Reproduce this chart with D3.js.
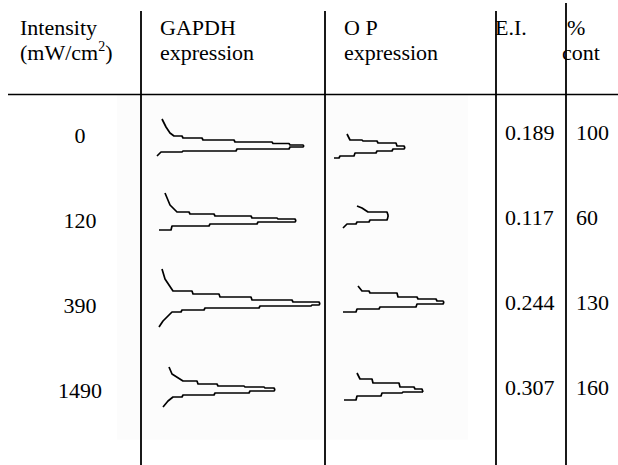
<!DOCTYPE html>
<html>
<head>
<meta charset="utf-8">
<script src="https://cdn.jsdelivr.net/npm/d3@7"></script>
<style>
  html, body { margin: 0; padding: 0; background: #fff; }
  svg { display: block; }
</style>
</head>
<body>
<svg id="chart" width="618" height="465"></svg>
<script>
// ---------- data ----------
const intensities = ["0", "120", "390", "1490"];
const eiValues = ["0.189", "0.117", "0.244", "0.307"];
const pctCont = ["100", "60", "130", "160"];
const headerLine1 = ["Intensity", "GAPDH", "O P", "E.I.", "%"];
const headerLine2 = ["(mW/cm", "expression", "expression", "", "cont"];

// densitometry traces: [migration, offset] relative to lane start / row centre
const gapdhUpper = [
  [[21,-18],[25,-10],[29,-4],[33,-1],[42,1],[62,3],[94,5],[132,6.5],[149,8],[163,9]],
  [[24,-29],[29,-17],[36,-10],[49,-8],[74,-6],[111,-4],[137,-3],[155,-1]],
  [[21,-38],[24,-28],[32,-16],[52,-13],[79,-10],[111,-7],[152,-5],[179,-3]],
  [[28,-25],[31,-18],[42,-11],[57,-8],[77,-6],[104,-5],[124,-4],[134,-2]]
];
const gapdhLower = [
  [[16,19],[20,15],[42,14],[96,12],[149,10],[163,9]],
  [[18,8],[31,4],[69,2],[117,0],[155,-1]],
  [[18,20],[22,14],[31,5],[41,3],[64,1],[119,-1],[171,-2],[179,-3]],
  [[22,15],[27,9],[32,5],[42,3],[74,1],[109,-1],[134,-2]]
];
const opUpper = [
  [[22,-3],[25,3],[38,4],[53,6],[72,9],[80,11]],
  [[32,-16],[37,-14],[43,-10],[63,-7],[63,-5]],
  [[33,-21],[37,-16],[45,-14],[73,-10],[93,-8],[112,-6],[119,-5]],
  [[32,-19],[35,-13],[48,-9],[75,-5],[90,-3],[98,0]]
];
const opLower = [
  [[9,21],[15,19],[30,16],[52,14],[68,12],[80,11]],
  [[18,6],[22,2],[32,0],[45,-2],[63,-5]],
  [[18,5],[32,2],[55,0],[92,-3],[119,-5]],
  [[19,8],[32,4],[57,1],[78,0],[98,0]]
];

// ---------- layout ----------
const W = 618, H = 465;
const FONT = "'Liberation Serif', 'DejaVu Serif', 'Times New Roman', serif";
const svg = d3.select("#chart");
const colLines = [141, 325, 496, 566];
const ruleY = 94.5;

const rowY = d3.scalePoint().domain(intensities).range([137, 392]);
const traceX = d3.scaleLinear().domain([0, 200]).range([0, 200]);
const traceY = d3.scaleLinear().domain([-50, 50]).range([-50, 50]);

// faint scanned background
svg.append("rect").attr("x", 117).attr("y", ruleY).attr("width", 351).attr("height", 345)
  .attr("fill", "#fcfcfc");

// grid lines
svg.append("line").attr("x1", 8).attr("x2", W).attr("y1", ruleY).attr("y2", ruleY)
  .attr("stroke", "#000").attr("stroke-width", 1.6);
colLines.forEach((x, i) => {
  svg.append("line").attr("x1", x).attr("x2", x)
    .attr("y1", i === 3 ? 3 : 11).attr("y2", H)
    .attr("stroke", "#000").attr("stroke-width", 1.8);
});

// header
const fs = 22;
const h1x = [20, 160, 344, 495, 567];
const h2x = [20, 160, 344, 495, 562];
headerLine1.forEach((t, i) => {
  svg.append("text").attr("x", h1x[i]).attr("y", 35).attr("font-size", fs)
    .attr("font-family", FONT).text(t);
});
headerLine2.forEach((t, i) => {
  if (!t) return;
  const tx = svg.append("text").attr("x", h2x[i]).attr("y", 60).attr("font-size", fs)
    .attr("font-family", FONT);
  tx.append("tspan").text(t);
  if (i === 0) {
    tx.append("tspan").attr("font-size", 14).attr("dy", -9).text("2");
    tx.append("tspan").attr("dy", 9).text(")");
  }
});

// body rows
intensities.forEach((v, i) => {
  const y = rowY(v);
  svg.append("text").attr("x", 80).attr("y", y + 6).attr("text-anchor", "middle")
    .attr("font-size", fs).attr("font-family", FONT).text(v);
  svg.append("text").attr("x", 505).attr("y", y + 3).attr("font-size", fs)
    .attr("font-family", FONT).text(eiValues[i]);
  svg.append("text").attr("x", 576).attr("y", y + 3).attr("font-size", fs)
    .attr("font-family", FONT).text(pctCont[i]);
});

// traces: steep parts drawn straight, flat parts as scanner-like steps
function stepped(pts) {
  const out = [pts[0]];
  for (let k = 1; k < pts.length; k++) {
    const a = pts[k - 1], b = pts[k];
    const dx = Math.abs(b[0] - a[0]), dy = Math.abs(b[1] - a[1]);
    if (dy > 0 && dy < dx * 0.4) out.push([b[0] - 1, a[1]]);
    out.push(b);
  }
  return out;
}
const line = d3.line().x(d => traceX(d[0])).y(d => traceY(d[1])).curve(d3.curveLinear);
function drawLane(left, uppers, lowers) {
  intensities.forEach((v, i) => {
    const g = svg.append("g").attr("transform", `translate(${left},${rowY(v)})`);
    [uppers[i], lowers[i]].forEach(pts => {
      g.append("path").attr("d", line(stepped(pts))).attr("fill", "none")
        .attr("stroke", "#000").attr("stroke-width", 1.7)
        .attr("stroke-linejoin", "round");
    });
  });
}
drawLane(colLines[0], gapdhUpper, gapdhLower);
drawLane(colLines[1], opUpper, opLower);
</script>
</body>
</html>
